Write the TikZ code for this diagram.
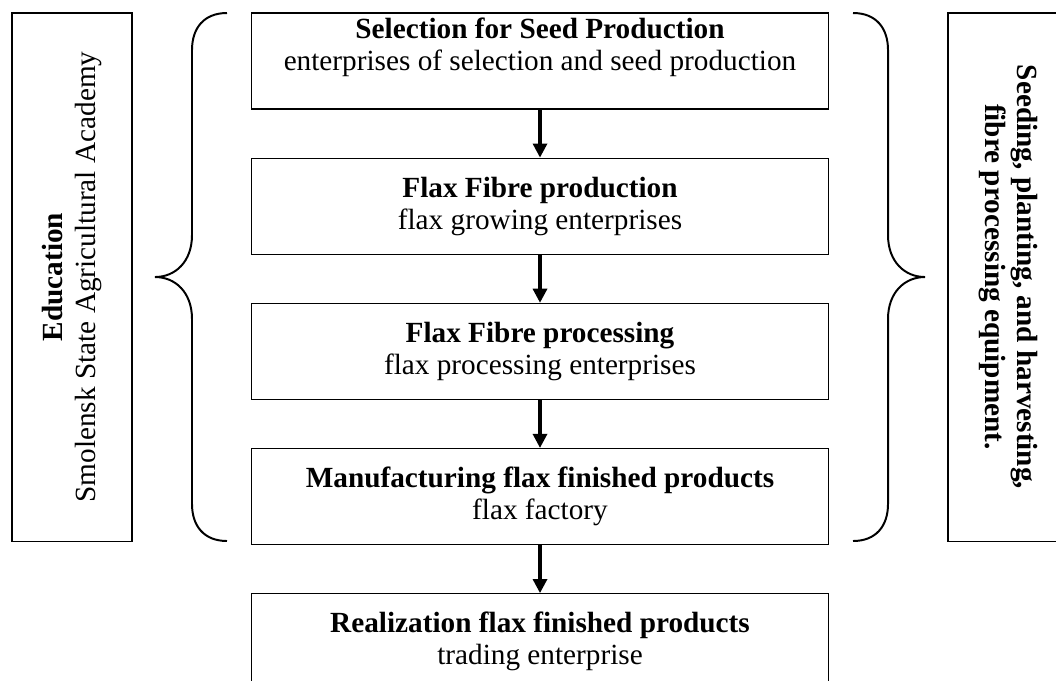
\documentclass[tikz,border=0pt]{standalone}
\usepackage{fontspec}
\setmainfont{Liberation Serif}
\usetikzlibrary{positioning,arrows.meta}

\begin{document}
\begin{tikzpicture}[x=0.025cm, y=-0.025cm,
  every node/.style = {align=center, inner sep=0pt,
    font=\fontsize{20.8}{22.8}\selectfont},
  stage/.style = {draw, line width=0.8pt,
    minimum width=14.4cm, minimum height=2.4cm},
  side/.style  = {draw, line width=0.8pt,
    minimum width=13.2cm, minimum height=3cm},
  flow/.style  = {-{Triangle[width=10pt,length=10pt]}, line width=2.2pt},
  curly/.style = {line width=1.4pt},
  node distance=1.2cm]
\clip (0,0) rectangle (1056,680);
% chain of stages
\node[stage] (sel) at (540,61) {};
\node[below=1.4mm of sel.north] (seltext)
  {\textbf{Selection for Seed Production}\\enterprises of selection and seed production};
\node[stage, below=of sel] (grow)
  {\textbf{Flax Fibre production}\\flax growing enterprises};
\node[stage, below=of grow] (proc)
  {\textbf{Flax Fibre processing}\\flax processing enterprises};
\node[stage, below=of proc] (manuf)
  {\textbf{Manufacturing flax finished products}\\flax factory};
\node[stage, below=of manuf] (real)
  {\textbf{Realization flax finished products}\\trading enterprise};
\draw[flow] (sel.south) -- (grow.north);
\draw[flow] (grow.south) -- (proc.north);
\draw[flow] (proc.south) -- (manuf.north);
\draw[flow] (manuf.south) -- (real.north);
% side boxes
\node[side, rotate=90] (edu) at (72,277)
  {\textbf{Education}\\Smolensk State Agricultural Academy};
\node[side, rotate=-90] (equip) at (1008,277)
  {\textbf{Seeding, planting, and harvesting,}\\\textbf{fibre processing equipment.}};
% braces
\draw[curly] (227,13) .. controls (204,13) and (192,28) .. (192,50)
  -- (192,235) .. controls (192,262) and (175,277) .. (155,277)
  .. controls (175,277) and (192,292) .. (192,319)
  -- (192,504) .. controls (192,526) and (204,541) .. (227,541);
\draw[curly] (853,13) .. controls (876,13) and (888,28) .. (888,50)
  -- (888,235) .. controls (888,262) and (905,277) .. (925,277)
  .. controls (905,277) and (888,292) .. (888,319)
  -- (888,504) .. controls (888,526) and (876,541) .. (853,541);
\end{tikzpicture}
\end{document}
